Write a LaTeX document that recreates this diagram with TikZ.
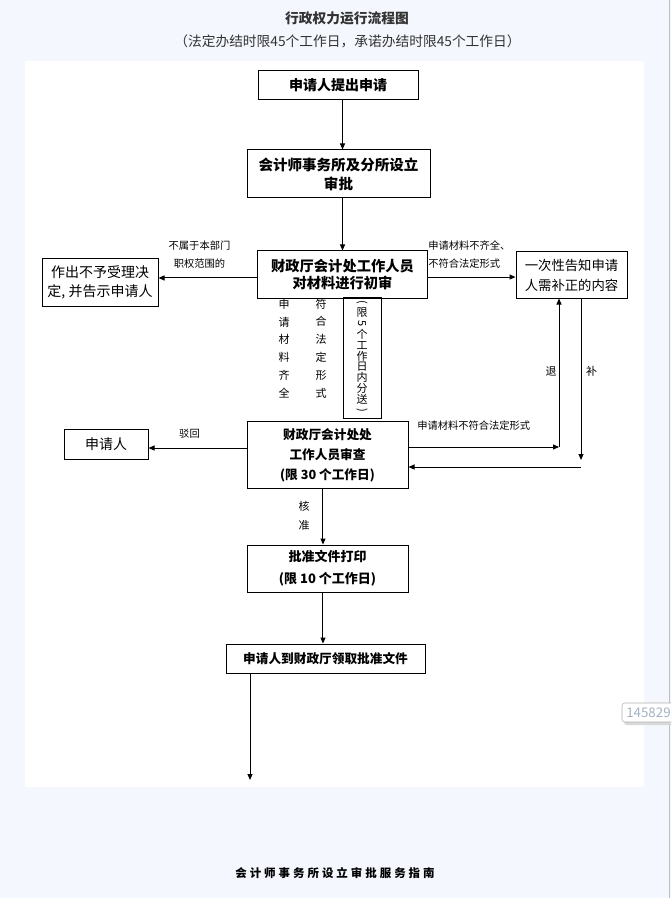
\documentclass[tikz,border=0pt]{standalone}
\usepackage{fontspec}
\setmainfont{Noto Sans CJK SC}
\usepackage{graphicx}
\usetikzlibrary{arrows.meta}
\definecolor{pagebg}{RGB}{244,247,253}
\definecolor{titlegray}{RGB}{51,51,51}
\definecolor{tagtext}{RGB}{165,178,195}
\newcommand{\sideways}[1]{\rotatebox[origin=c]{-90}{#1}}
\begin{document}
\begin{tikzpicture}[x=0.75pt, y=-0.75pt,
    box/.style={draw, line width=0.75pt, align=center, inner sep=0pt},
    arr/.style={-{Triangle[length=4.5pt,width=3.75pt]}, line width=0.75pt},
    note/.style={inner sep=0pt, font=\fontsize{7.7pt}{13.5pt}\selectfont},
    stack/.style={inner sep=0pt, align=center, font=\fontsize{8.25pt}{13.35pt}\selectfont}]
  \useasboundingbox (0,0) rectangle (671,898);
  % page and sheet
  \fill[pagebg] (0,0) rectangle (671,898);
  \fill[white] (25,61) rectangle (644,787);
  \draw[black!25, line width=0.75pt] (669.5,0) -- (669.5,898);
  % heading
  \node[text=titlegray, font=\fontsize{10.3pt}{10.3pt}\selectfont\bfseries] (title) at (347,18) {行政权力运行流程图};
  \node[text=titlegray, font=\fontsize{10.3pt}{10.3pt}\selectfont] (subtitle) at (347.5,41) {（法定办结时限45个工作日，承诺办结时限45个工作日）};
  % boxes
  \node[box, minimum width=120pt, minimum height=21.75pt, font=\fontsize{10.5pt}{10.5pt}\selectfont\bfseries] (apply) at (338,85.5) {申请人提出申请};
  \node[box, minimum width=137.25pt, minimum height=36pt, font=\fontsize{10.9pt}{14.25pt}\selectfont\bfseries] (setup) at (338.5,174) {会计师事务所及分所设立\\审批};
  \node[box, minimum width=127.5pt, minimum height=35.25pt, font=\fontsize{10.7pt}{12.75pt}\selectfont\bfseries] (first) at (342.5,274.5) {财政厅会计处工作人员\\对材料进行初审};
  \node[box, minimum width=87pt, minimum height=35.25pt, font=\fontsize{10.5pt}{14.25pt}\selectfont] (refuse) at (100,282.5) {作出不予受理决\\定, 并告示申请人};
  \node[box, minimum width=83.25pt, minimum height=34.5pt, font=\fontsize{10pt}{15pt}\selectfont] (notify) at (571.5,275) {一次性告知申请\\人需补正的内容};
  \node[box, minimum width=28.5pt, minimum height=90.75pt, font=\fontsize{8.25pt}{8.1pt}\selectfont] (sendbox) at (362,357.5)
    {\sideways{(}\\限\\\sideways{5}\\个\\工\\作\\日\\内\\分\\送\\\sideways{)}};
  \node[box, minimum width=120.75pt, minimum height=50.25pt, font=\fontsize{9.5pt}{15pt}\selectfont\bfseries] (review) at (327.5,455) {财政厅会计处处\\工作人员审查\\(限 30 个工作日)};
  \node[box, minimum width=63pt, minimum height=22.5pt, font=\fontsize{10.5pt}{10.5pt}\selectfont] (applicant) at (106,444) {申请人};
  \node[box, minimum width=120.75pt, minimum height=35.25pt, font=\fontsize{9.75pt}{16.5pt}\selectfont\bfseries] (print) at (327.5,568.5) {批准文件打印\\(限 10 个工作日)};
  \node[box, minimum width=149.25pt, minimum height=21.75pt, font=\fontsize{9.5pt}{9.5pt}\selectfont\bfseries] (collect) at (325.5,658.5) {申请人到财政厅领取批准文件};
  % free ends
  \coordinate (backturn) at (559,447);
  \coordinate (supplytip) at (581,460);
  \coordinate (supplyback) at (581,467);
  \coordinate (finish) at (250,780);
  % connectors
  \draw[arr] (apply.south -| first) -- (setup.north -| first);
  \draw[arr] (setup.south -| first) -- (first.north);
  \draw[arr] ([yshift=-2.6pt]first.west) -- ([yshift=-2.6pt]first.west -| refuse.east);
  \draw[arr] ([yshift=-1.9pt]first.east) -- ([yshift=-1.9pt]first.east -| notify.west);
  \draw[arr] ([yshift=5.25pt]review.west) -- ([yshift=5.25pt]review.west -| applicant.east);
  \draw[arr] ([yshift=6pt]review.east) -- (backturn);
  \draw[arr] (backturn) -- (backturn |- notify.south);
  \draw[arr] (notify.south -| supplytip) -- (supplytip);
  \draw[arr] (supplyback) -- (supplyback -| review.east);
  \draw[arr] ([xshift=-3.4pt]review.south) -- ([xshift=-3.4pt]print.north);
  \draw[arr] ([xshift=-3.4pt]print.south) -- ([xshift=-3.4pt]print.south |- collect.north);
  \draw[arr] (collect.south -| finish) -- (finish);
  % connector labels
  \node[note, align=center] (outscope) at (199.5,255) {不属于本部门\\职权范围的};
  \node[note, align=left, anchor=west] (incomplete) at (428,255) {申请材料不齐全、\\不符合法定形式};
  \node[stack] (complete) at (284,348.5) {申\\请\\材\\料\\齐\\全};
  \node[stack] (formok) at (321,348.5) {符\\合\\法\\定\\形\\式};
  \node[note, anchor=west] (informal) at (417,426) {申请材料不符合法定形式};
  \node[note] (dismiss) at (189.5,433.5) {驳回};
  \node[stack] (back) at (551,371) {退};
  \node[stack] (supply) at (591.5,371) {补};
  \node[stack, font=\fontsize{8.25pt}{14.25pt}\selectfont] (approve) at (304,516) {核\\准};
  % footer
  \node[font=\fontsize{8.6pt}{8.6pt}\selectfont\bfseries\addfontfeature{LetterSpace=26}] (guide) at (335,873) {会计师事务所设立审批服务指南};
  % side tag
  \begin{scope}
    \clip (0,0) rectangle (671,898);
    \fill[black!15, rounded corners=2pt] (624,706) rectangle (690,725);
    \draw[black!30, fill=white, rounded corners=2pt] (622,703) rectangle (688,722);
    \node[anchor=west, inner sep=0pt, text=tagtext, font=\fontsize{10pt}{10pt}\selectfont] (tag) at (626,712.5) {145829};
  \end{scope}
\end{tikzpicture}
\end{document}
